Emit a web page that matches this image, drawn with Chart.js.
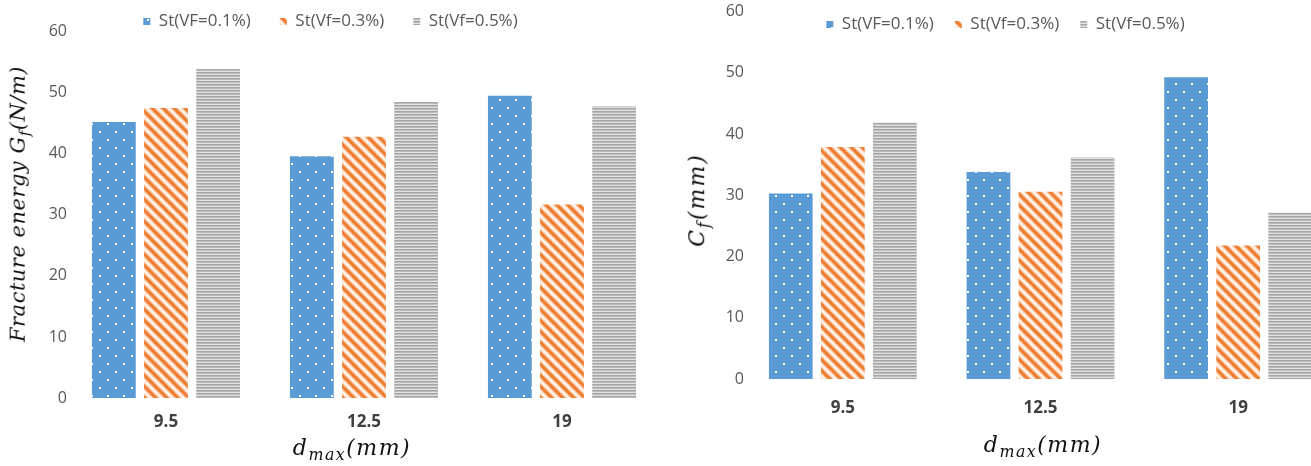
<!DOCTYPE html>
<html><head><meta charset="utf-8">
<script src="https://cdn.jsdelivr.net/npm/chart.js@4.4.0/dist/chart.umd.min.js"></script>
<style>
html,body{margin:0;padding:0;background:#fff;}
body{width:1311px;height:466px;overflow:hidden;position:relative;}
#w1{position:absolute;left:0;top:0;width:670px;height:466px;}
#w2{position:absolute;left:660px;top:0;width:700px;height:466px;}
.ttl{position:absolute;font-family:"DejaVu Serif",serif;font-style:italic;font-size:21px;color:#111;white-space:nowrap;transform:translate(-50%,-50%);line-height:1;}
.ttl sub{font-size:72%;vertical-align:-0.3em;}
.rot{transform:translate(-50%,-50%) rotate(-90deg);}
</style></head>
<body>
<div id="w1"><canvas id="c1" width="670" height="466"></canvas></div>
<div id="w2"><canvas id="c2" width="700" height="466"></canvas></div>
<div class="ttl rot" style="left:20px;top:204px;letter-spacing:0.5px">Fracture energy G<sub>f</sub>(N/m)</div>
<div class="ttl" style="left:352px;top:450px;font-size:22px;letter-spacing:1.5px">d<sub>max</sub>(mm)</div>
<div class="ttl rot" style="left:699px;top:200px;font-size:22px;letter-spacing:2px">C<sub>f</sub>(mm)</div>
<div class="ttl" style="left:1043px;top:447px;font-size:22px;letter-spacing:1.5px">d<sub>max</sub>(mm)</div>
<script>
const categories = ['9.5', '12.5', '19'];
const seriesLabels = ['St(VF=0.1%)', 'St(Vf=0.3%)', 'St(Vf=0.5%)'];
const fractureEnergyVF01 = [45.2, 39.6, 49.5];
const fractureEnergyVF03 = [47.5, 42.8, 31.7];
const fractureEnergyVF05 = [53.9, 48.5, 47.8];
const cfVF01 = [30.3, 33.8, 49.3];
const cfVF03 = [37.9, 30.6, 21.8];
const cfVF05 = [41.9, 36.2, 27.2];
const yTickValues = [0, 10, 20, 30, 40, 50, 60];

function makeTile(w, h, draw) {
  const c = document.createElement('canvas'); c.width = w; c.height = h;
  draw(c.getContext('2d'), w, h); return c;
}
const tmp = document.createElement('canvas').getContext('2d');
const bluePattern = tmp.createPattern(makeTile(16, 16, (g) => {
  g.fillStyle = '#5b9bd5'; g.fillRect(0, 0, 16, 16);
  g.fillStyle = 'rgba(255,255,255,0.95)';
  g.fillRect(3, 3, 2, 2); g.fillRect(11, 11, 2, 2);
}), 'repeat');
const orangePattern = tmp.createPattern(makeTile(11, 11, (g) => {
  g.fillStyle = '#fff6f0'; g.fillRect(0, 0, 11, 11);
  for (const [col, lw] of [['#f9d2b6', 6], ['#ed7d31', 3.2]]) {
    g.strokeStyle = col; g.lineWidth = lw;
    for (const k of [-11, 0, 11]) { g.beginPath(); g.moveTo(k - 2, -2); g.lineTo(k + 13, 13); g.stroke(); }
  }
}), 'repeat');
const grayPattern = tmp.createPattern(makeTile(4, 3, (g) => {
  g.fillStyle = '#a5a5a5'; g.fillRect(0, 0, 4, 1);
  g.fillStyle = '#bcbcbc'; g.fillRect(0, 1, 4, 1);
  g.fillStyle = '#e0e0e0'; g.fillRect(0, 2, 4, 1);
}), 'repeat');
const patterns = [bluePattern, orangePattern, grayPattern];

const legendShift = {
  id: 'legendShift',
  afterLayout(chart) {
    const o = chart.options.plugins.legendShift;
    const L = chart.legend;
    if (!L || !o) return;
    L.top = o.top; L.bottom = o.top + 70; L.height = 70;
    L.left += o.dx; L.right += o.dx;
  }
};

function makeChart(id, seriesData, cfg) {
  return new Chart(document.getElementById(id), {
    type: 'bar',
    data: {
      labels: categories,
      datasets: seriesData.map((d, i) => ({
        label: seriesLabels[i], data: d, backgroundColor: patterns[i],
        borderWidth: 0, categoryPercentage: 0.79, barPercentage: 0.84
      }))
    },
    options: {
      responsive: false, animation: false, devicePixelRatio: 1,
      layout: { padding: { top: cfg.padTop, right: cfg.padRight, left: 0, bottom: 0 } },
      plugins: {
        tooltip: { enabled: false },
        legendShift: { top: cfg.legendTop, dx: cfg.legendDx },
        legend: {
          position: 'top', maxHeight: 1,
          labels: { boxWidth: 7, boxHeight: 7, padding: cfg.legendPad, color: '#595959',
            font: { family: 'Open Sans', size: 17 } }
        }
      },
      scales: {
        x: {
          grid: { display: false, drawTicks: false }, border: { display: false },
          ticks: { color: '#404040', padding: cfg.xPad, font: { family: 'Open Sans', size: 17, weight: 'bold' } },
          afterFit: (s) => { s.height = cfg.xHeight; }
        },
        y: {
          min: 0, max: 60,
          grid: { display: false, drawTicks: false }, border: { display: false },
          ticks: { color: '#595959', padding: 0, font: { family: 'Open Sans', size: 16 } },
          afterBuildTicks: (s) => { s.ticks = yTickValues.map(v => ({ value: v })); },
          afterFit: (s) => { s.width = cfg.yWidth; }
        }
      }
    },
    plugins: [legendShift]
  });
}

makeChart('c1', [fractureEnergyVF01, fractureEnergyVF03, fractureEnergyVF05],
  { padTop: 30.7, padRight: 9, xHeight: 68, yWidth: 67, xPad: 13.5, legendTop: -16, legendDx: 0, legendPad: 29 });
makeChart('c2', [cfVF01, cfVF03, cfVF05],
  { padTop: 10.7, padRight: 23, xHeight: 87, yWidth: 84, xPad: 18.8, legendTop: -5, legendDx: 7, legendPad: 21 });
</script>
</body></html>
